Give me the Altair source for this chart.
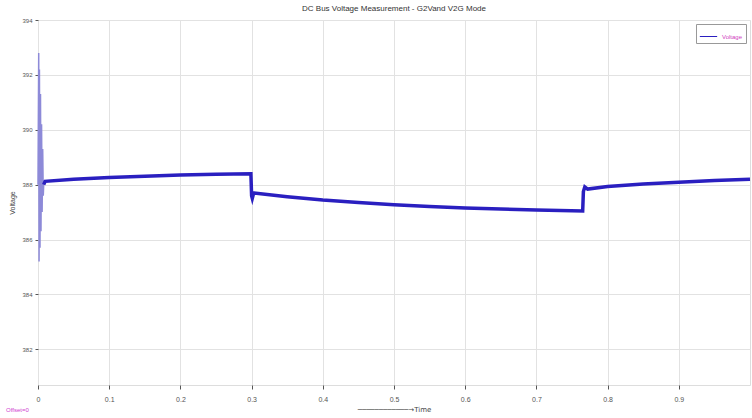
import altair as alt
import pandas as pd

# main trace (time in s, voltage in V)
t_main = [0.008, 0.01, 0.05, 0.1, 0.15, 0.2, 0.25, 0.299, 0.3, 0.301, 0.303, 0.35, 0.4, 0.45, 0.5,
          0.55, 0.6, 0.65, 0.7, 0.765, 0.766, 0.768, 0.772, 0.8, 0.85, 0.9, 0.95, 1.0]
v_main = [388.0, 388.12, 388.2, 388.26, 388.31, 388.35, 388.38, 388.4, 387.6, 387.5, 387.7, 387.56, 387.44, 387.35, 387.27,
          387.2, 387.15, 387.11, 387.08, 387.04, 387.75, 387.92, 387.84, 387.93, 388.02, 388.09, 388.15, 388.2]
# start-up transient
t_spike = [0.0, 0.001, 0.0015, 0.002, 0.0028, 0.0035, 0.0042, 0.005, 0.0058, 0.0066, 0.0074, 0.008]
v_spike = [388.0, 392.8, 385.2, 392.2, 385.7, 391.3, 386.3, 390.2, 387.0, 389.3, 387.6, 388.0]

x_ticks = [0, 0.1, 0.2, 0.3, 0.4, 0.5, 0.6, 0.7, 0.8, 0.9]
y_ticks = [382, 384, 386, 388, 390, 392, 394]

main = pd.DataFrame({"t": t_main, "v": v_main, "s": "Voltage"})
spike = pd.DataFrame({"t": t_spike, "v": v_spike})

xs = alt.Scale(domain=[0, 1.0], nice=False)
ys = alt.Scale(domain=[380.7, 394], nice=False)

xaxis = alt.Axis(values=x_ticks, format="~g", title="────────────→Time", labelFontSize=7, titleFontSize=7,
                 titleFont="DejaVu Sans", titleFontWeight="normal",
                 labelColor="#555", titleColor="#444", grid=True, gridColor="#e2e2e2",
                 domain=False, tickColor="#555", tickSize=4, labelPadding=6, titlePadding=3,
                 labelFlush=False)
yaxis = alt.Axis(values=y_ticks, title="Voltage", labelFontSize=6, titleFontSize=7,
                 titleFontWeight="normal",
                 labelColor="#555", titleColor="#444", grid=True, gridColor="#e2e2e2",
                 domain=False, tickColor="#555", tickSize=3, labelPadding=3, titlePadding=6)

base_line = alt.Chart(main).mark_line(strokeWidth=3.5, interpolate="linear").encode(
    x=alt.X("t:Q", scale=xs, axis=xaxis),
    y=alt.Y("v:Q", scale=ys, axis=yaxis),
    color=alt.Color("s:N", scale=alt.Scale(domain=["Voltage"], range=["#2a1fc0"]),
                    legend=alt.Legend(title=None, orient="top-right", labelColor="#d040c0",
                                      labelFontSize=6, symbolType="stroke", symbolStrokeWidth=1,
                                      symbolSize=300, strokeColor="#999", padding=3,
                                      offset=4, fillColor="white")),
)

spike_line = alt.Chart(spike).mark_line(strokeWidth=1.5, color="#8d8ad8").encode(
    x=alt.X("t:Q", scale=xs),
    y=alt.Y("v:Q", scale=ys),
)

offset_txt = alt.Chart(pd.DataFrame({"txt": ["Offset=0"]})).mark_text(
    align="left", fontSize=6, color="#d040d0").encode(
    x=alt.value(-32), y=alt.value(390), text="txt:N")

chart = alt.layer(spike_line, base_line, offset_txt).properties(
    width=712, height=365,
    title=alt.TitleParams("DC Bus Voltage Measurement - G2Vand V2G Mode", fontSize=8,
                          fontWeight="normal", color="#333", offset=4),
    padding={"left": 38, "top": 20, "right": 2, "bottom": 33},
    autosize=alt.AutoSizeParams(type="none"),
).configure_view(stroke="#777", strokeWidth=2).configure(font="Liberation Sans", background="white")

chart.save("out.html", embed_options={"renderer": "svg", "actions": False})
